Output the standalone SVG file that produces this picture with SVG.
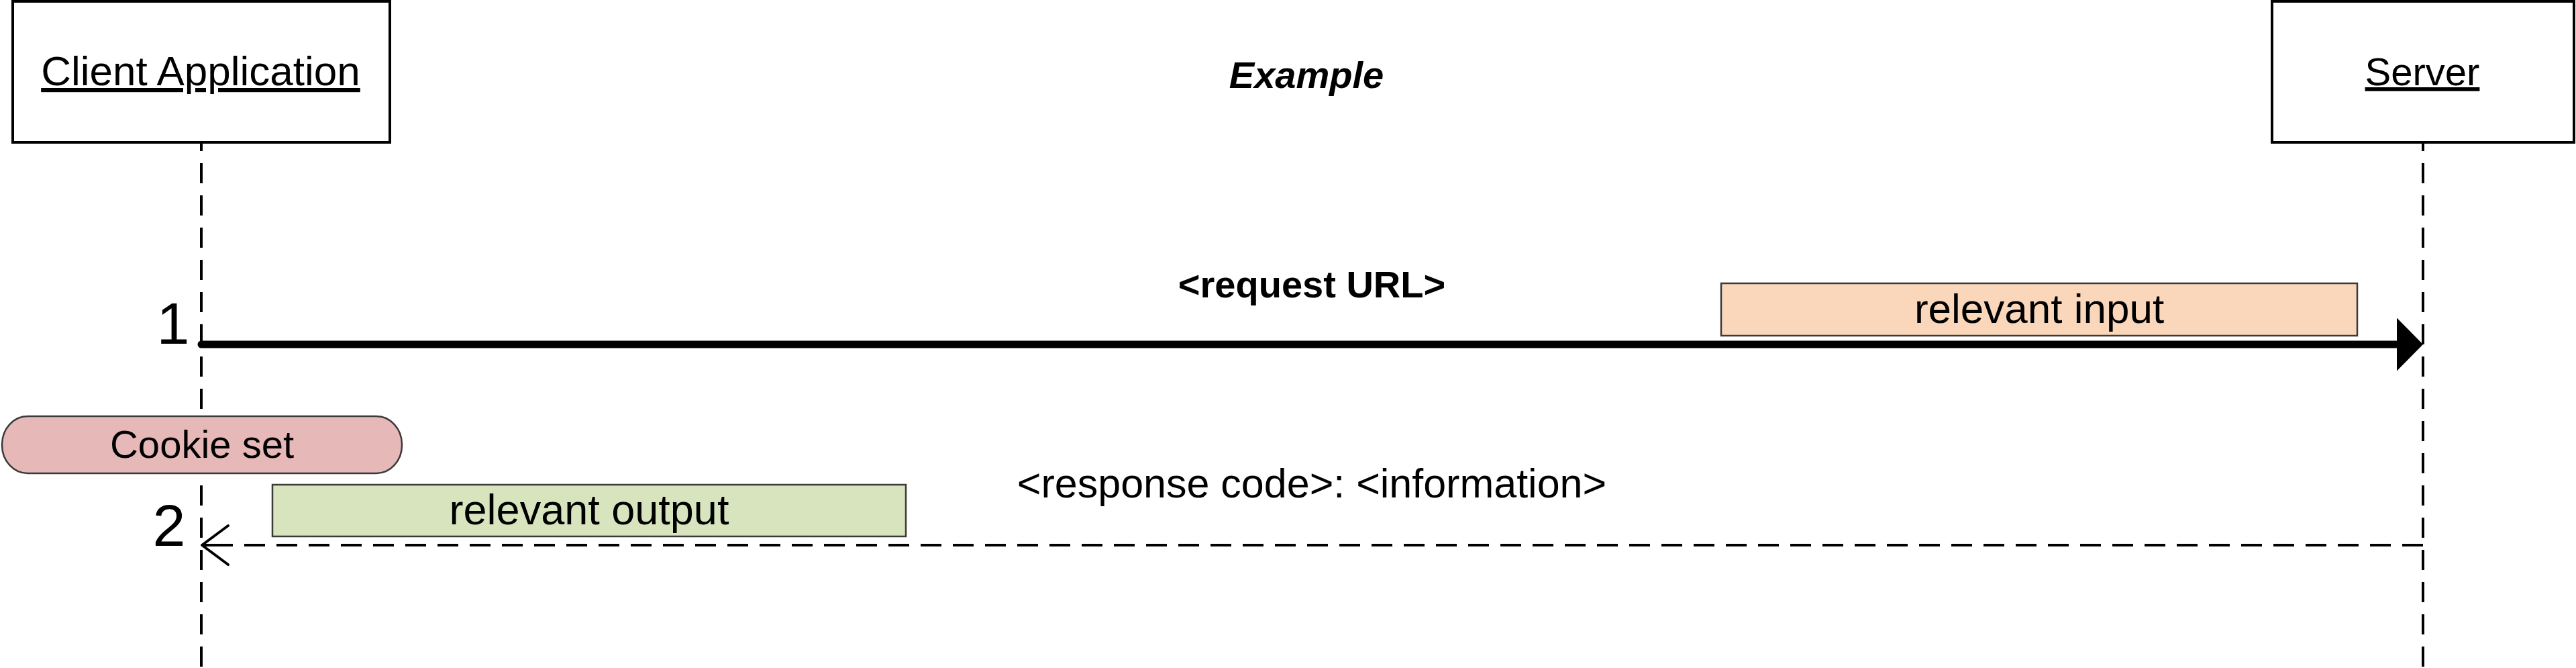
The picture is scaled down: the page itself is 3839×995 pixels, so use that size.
<svg xmlns="http://www.w3.org/2000/svg" width="3839" height="995" viewBox="0 0 3839 995">
  <style>
    .t { font-family: "Liberation Sans", Arial, sans-serif; fill: #000; text-anchor: middle; }
    .lbl { font-size: 62px; }
    .u { text-decoration: underline; }
    .num { font-size: 88px; }
    .actor { fill: #fff; stroke: #000; stroke-width: 4; }
    .life { fill: none; stroke: #000; stroke-width: 4; stroke-dasharray: 30 18; stroke-dashoffset: 17; }
    .note { stroke: #3a3a3a; stroke-width: 2.5; }
  </style>
  <defs>
    <marker id="solidHead" markerUnits="userSpaceOnUse" viewBox="-2 -42 45 84" refX="0" refY="0" markerWidth="45" markerHeight="84" orient="auto" overflow="visible">
      <path d="M0,-39.5 L39,0 L0,39.5 z" fill="#000"/>
    </marker>
    <marker id="openHead" markerUnits="userSpaceOnUse" viewBox="-45 -35 50 70" refX="0" refY="0" markerWidth="50" markerHeight="70" orient="auto" overflow="visible">
      <path d="M-39,-29 L0,0 L-39,29" fill="none" stroke="#000" stroke-width="4" stroke-linecap="round" stroke-linejoin="round"/>
    </marker>
  </defs>
  <rect width="3839" height="995" fill="#fff"/>

  <g id="lifelines">
    <line class="life" x1="300" y1="212" x2="300" y2="995"/>
    <line class="life" x1="3611" y1="212" x2="3611" y2="995"/>
  </g>

  <g id="client">
    <rect class="actor" x="19" y="2" width="562" height="210"/>
    <text class="t lbl u" x="299" y="127">Client Application</text>
  </g>

  <g id="title">
    <text class="t" x="1947" y="131" font-size="56" font-weight="bold" font-style="italic">Example</text>
  </g>

  <g id="server">
    <rect class="actor" x="3386" y="2" width="450" height="210"/>
    <text class="t u" x="3610" y="127" font-size="58">Server</text>
  </g>

  <g id="connectors">
    <line x1="300" y1="513" x2="3572" y2="513" stroke="#000" stroke-width="11" stroke-linecap="round" marker-end="url(#solidHead)"/>
    <line x1="3611" y1="812" x2="301" y2="812" stroke="#000" stroke-width="4" stroke-dasharray="31 17" marker-end="url(#openHead)"/>
    <line x1="301" y1="812" x2="345" y2="812" stroke="#000" stroke-width="4"/>
  </g>

  <g id="label1">
    <text class="t num" x="258" y="512">1</text>
  </g>
  <g id="request-label">
    <text class="t" x="1955" y="443" font-size="56" font-weight="bold">&lt;request URL&gt;</text>
  </g>
  <g id="relevant-input">
    <rect class="note" x="2565" y="422" width="948" height="78" fill="#FAD7BB"/>
    <text class="t lbl" x="3039" y="481">relevant input</text>
  </g>

  <g id="cookie-set">
    <rect class="note" x="3" y="620" width="596" height="85" rx="38" ry="42" fill="#E6B9B8"/>
    <text class="t" x="301" y="682" font-size="58">Cookie set</text>
  </g>

  <g id="response-label">
    <text class="t" x="1955" y="741" font-size="61">&lt;response code&gt;: &lt;information&gt;</text>
  </g>
  <g id="relevant-output">
    <rect class="note" x="406" y="722" width="944" height="77" fill="#D7E4BD"/>
    <text class="t" x="878" y="781" font-size="63">relevant output</text>
  </g>
  <g id="label2">
    <text class="t num" x="252" y="813">2</text>
  </g>
</svg>
